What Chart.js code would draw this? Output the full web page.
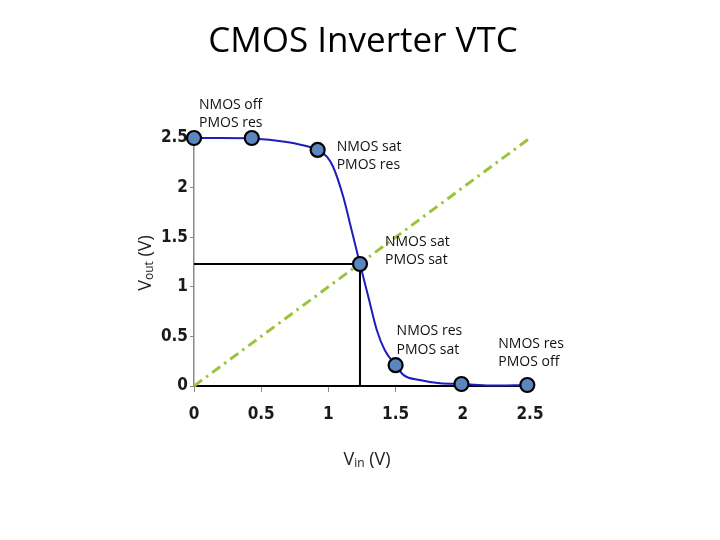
<!DOCTYPE html>
<html>
<head>
<meta charset="utf-8">
<title>CMOS Inverter VTC</title>
<script src="https://cdn.jsdelivr.net/npm/chart.js@4.4.1/dist/chart.umd.min.js"></script>
<style>
  html, body { margin: 0; padding: 0; background: #fff; }
  #wrap { width: 720px; height: 540px; }
</style>
</head>
<body>
<div id="wrap"><canvas id="vtc"></canvas></div>
<script>
// transfer curve (V)
const vinCurve  = [0, 0.2, 0.43, 0.69, 0.8, 0.92, 0.99, 1.035, 1.11, 1.173, 1.235, 1.297, 1.36, 1.42, 1.5, 1.56, 1.68, 1.83, 2.0, 2.2, 2.48]
const voutCurve = [2.5, 2.5, 2.495, 2.46, 2.43, 2.38, 2.31, 2.21, 1.91, 1.57, 1.23, 0.9, 0.565, 0.36, 0.21, 0.11, 0.06, 0.027, 0.02, 0.005, 0.01]

// operating points marked on the curve
const vinMarks  = [0, 0.43, 0.92, 1.235, 1.5, 1.99, 2.48]
const voutMarks = [2.5, 2.5, 2.38, 1.23, 0.21, 0.02, 0.01]
const regionText = [
  ['NMOS off', 'PMOS res'],
  null,
  ['NMOS sat', 'PMOS res'],
  ['NMOS sat', 'PMOS sat'],
  ['NMOS res', 'PMOS sat'],
  null,
  ['NMOS res', 'PMOS off']
]

// switching threshold Vm
const vmIn = 1.235
const vmOut = 1.23

const tickValues = [0, 0.5, 1, 1.5, 2, 2.5]
const tickLabels = ['0', '0.5', '1', '1.5', '2', '2.5']
const unityLine = [0, 2.5]

const tickFont = { family: "'Liberation Sans Narrow', 'DejaVu Sans Condensed', sans-serif", size: 17, weight: 'bold' }
const textFont = "'Open Sans', 'Noto Sans', sans-serif"

// where each label sits relative to its marker, in px
const labelOffsets = [[5, -33], null, [19, -3], [25, -22], [1, -34], null, [-29, -41]]

function drawSubscripted(ctx, parts) {
  let total = 0
  parts.forEach(p => {
    ctx.font = p.size + 'px ' + textFont
    total += ctx.measureText(p.text).width
  })
  let x = -total / 2
  parts.forEach(p => {
    ctx.font = p.size + 'px ' + textFont
    ctx.fillText(p.text, x, p.dy || 0)
    x += ctx.measureText(p.text).width
  })
}

const textPlugin = {
  id: 'vtcText',
  afterDraw(chart) {
    const ctx = chart.ctx
    const area = chart.chartArea
    const xs = chart.scales.x
    const ys = chart.scales.y
    ctx.save()
    ctx.fillStyle = '#000'
    ctx.textBaseline = 'middle'

    // title
    ctx.textAlign = 'center'
    ctx.font = '35px ' + textFont
    ctx.fillText('CMOS Inverter VTC', (area.left + area.right) / 2 + 1, area.top - 96)

    // region labels
    ctx.textAlign = 'left'
    ctx.font = '14px ' + textFont
    ctx.fillStyle = '#111'
    regionText.forEach((lines, i) => {
      if (!lines) return
      const px = xs.getPixelForValue(vinMarks[i]) + labelOffsets[i][0]
      const py = ys.getPixelForValue(voutMarks[i]) + labelOffsets[i][1]
      lines.forEach((t, k) => ctx.fillText(t, px, py + k * 18.5))
    })

    // axis titles with subscripts
    ctx.textAlign = 'left'
    ctx.fillStyle = '#222'

    ctx.save()
    ctx.translate(area.left - 48, (area.top + area.bottom) / 2 + 1)
    ctx.rotate(-Math.PI / 2)
    drawSubscripted(ctx, [
      { text: 'V', size: 18 },
      { text: 'out', size: 12, dy: 4 },
      { text: ' (V)', size: 18 }
    ])
    ctx.restore()

    ctx.save()
    ctx.translate((area.left + area.right) / 2 + 5, area.bottom + 74)
    drawSubscripted(ctx, [
      { text: 'V', size: 18 },
      { text: 'in', size: 12, dy: 4 },
      { text: ' (V)', size: 18 }
    ])
    ctx.restore()

    ctx.restore()
  }
}

const curvePoints = vinCurve.map((v, i) => ({ x: v, y: voutCurve[i] }))
const markPoints = vinMarks.map((v, i) => ({ x: v, y: voutMarks[i] }))
const unityPoints = unityLine.map(v => ({ x: v, y: v }))
const vmPoints = [{ x: 0, y: vmOut }, { x: vmIn, y: vmOut }, { x: vmIn, y: 0 }]

const tickLabel = v => tickLabels[tickValues.indexOf(v)] ?? String(v)

new Chart(document.getElementById('vtc'), {
  type: 'line',
  data: {
    datasets: [
      {
        label: 'operating points',
        data: markPoints,
        showLine: false,
        pointRadius: 7,
        pointBackgroundColor: '#5b86c0',
        pointBorderColor: '#000',
        pointBorderWidth: 2.2,
        clip: false
      },
      {
        label: 'Vout',
        data: curvePoints,
        borderColor: '#1c1cc0',
        borderWidth: 2,
        pointRadius: 0,
        cubicInterpolationMode: 'monotone',
        clip: false
      },
      {
        label: 'Vm',
        data: vmPoints,
        borderColor: '#000',
        borderWidth: 2,
        pointRadius: 0,
        tension: 0,
        clip: false
      },
      {
        label: 'Vout = Vin',
        data: unityPoints,
        borderColor: '#9cc43a',
        borderWidth: 3,
        borderDash: [10, 5, 2.5, 5],
        pointRadius: 0,
        clip: false
      }
    ]
  },
  options: {
    responsive: true,
    maintainAspectRatio: false,
    animation: false,
    layout: { padding: { left: 150, right: 190, top: 138, bottom: 0 } },
    plugins: {
      legend: { display: false },
      tooltip: { enabled: false },
      title: { display: false }
    },
    scales: {
      x: {
        type: 'linear',
        min: 0,
        max: 2.5,
        afterFit: s => { s.height = 154 },
        afterBuildTicks: s => { s.ticks = tickValues.map(v => ({ value: v })) },
        border: { color: '#000', width: 2 },
        grid: { drawOnChartArea: false, drawTicks: true, tickLength: 6, color: '#8a8a8a' },
        ticks: { color: '#1a1a1a', font: tickFont, padding: 12, maxRotation: 0, callback: tickLabel }
      },
      y: {
        type: 'linear',
        min: 0,
        max: 2.5,
        afterFit: s => { s.width = 44 },
        afterBuildTicks: s => { s.ticks = tickValues.map(v => ({ value: v })) },
        border: { color: '#8a8a8a', width: 1.5 },
        grid: { drawOnChartArea: false, drawTicks: true, tickLength: 4, color: '#8a8a8a' },
        ticks: { color: '#1a1a1a', font: tickFont, padding: 2, callback: tickLabel }
      }
    }
  },
  plugins: [textPlugin]
})
</script>
</body>
</html>
